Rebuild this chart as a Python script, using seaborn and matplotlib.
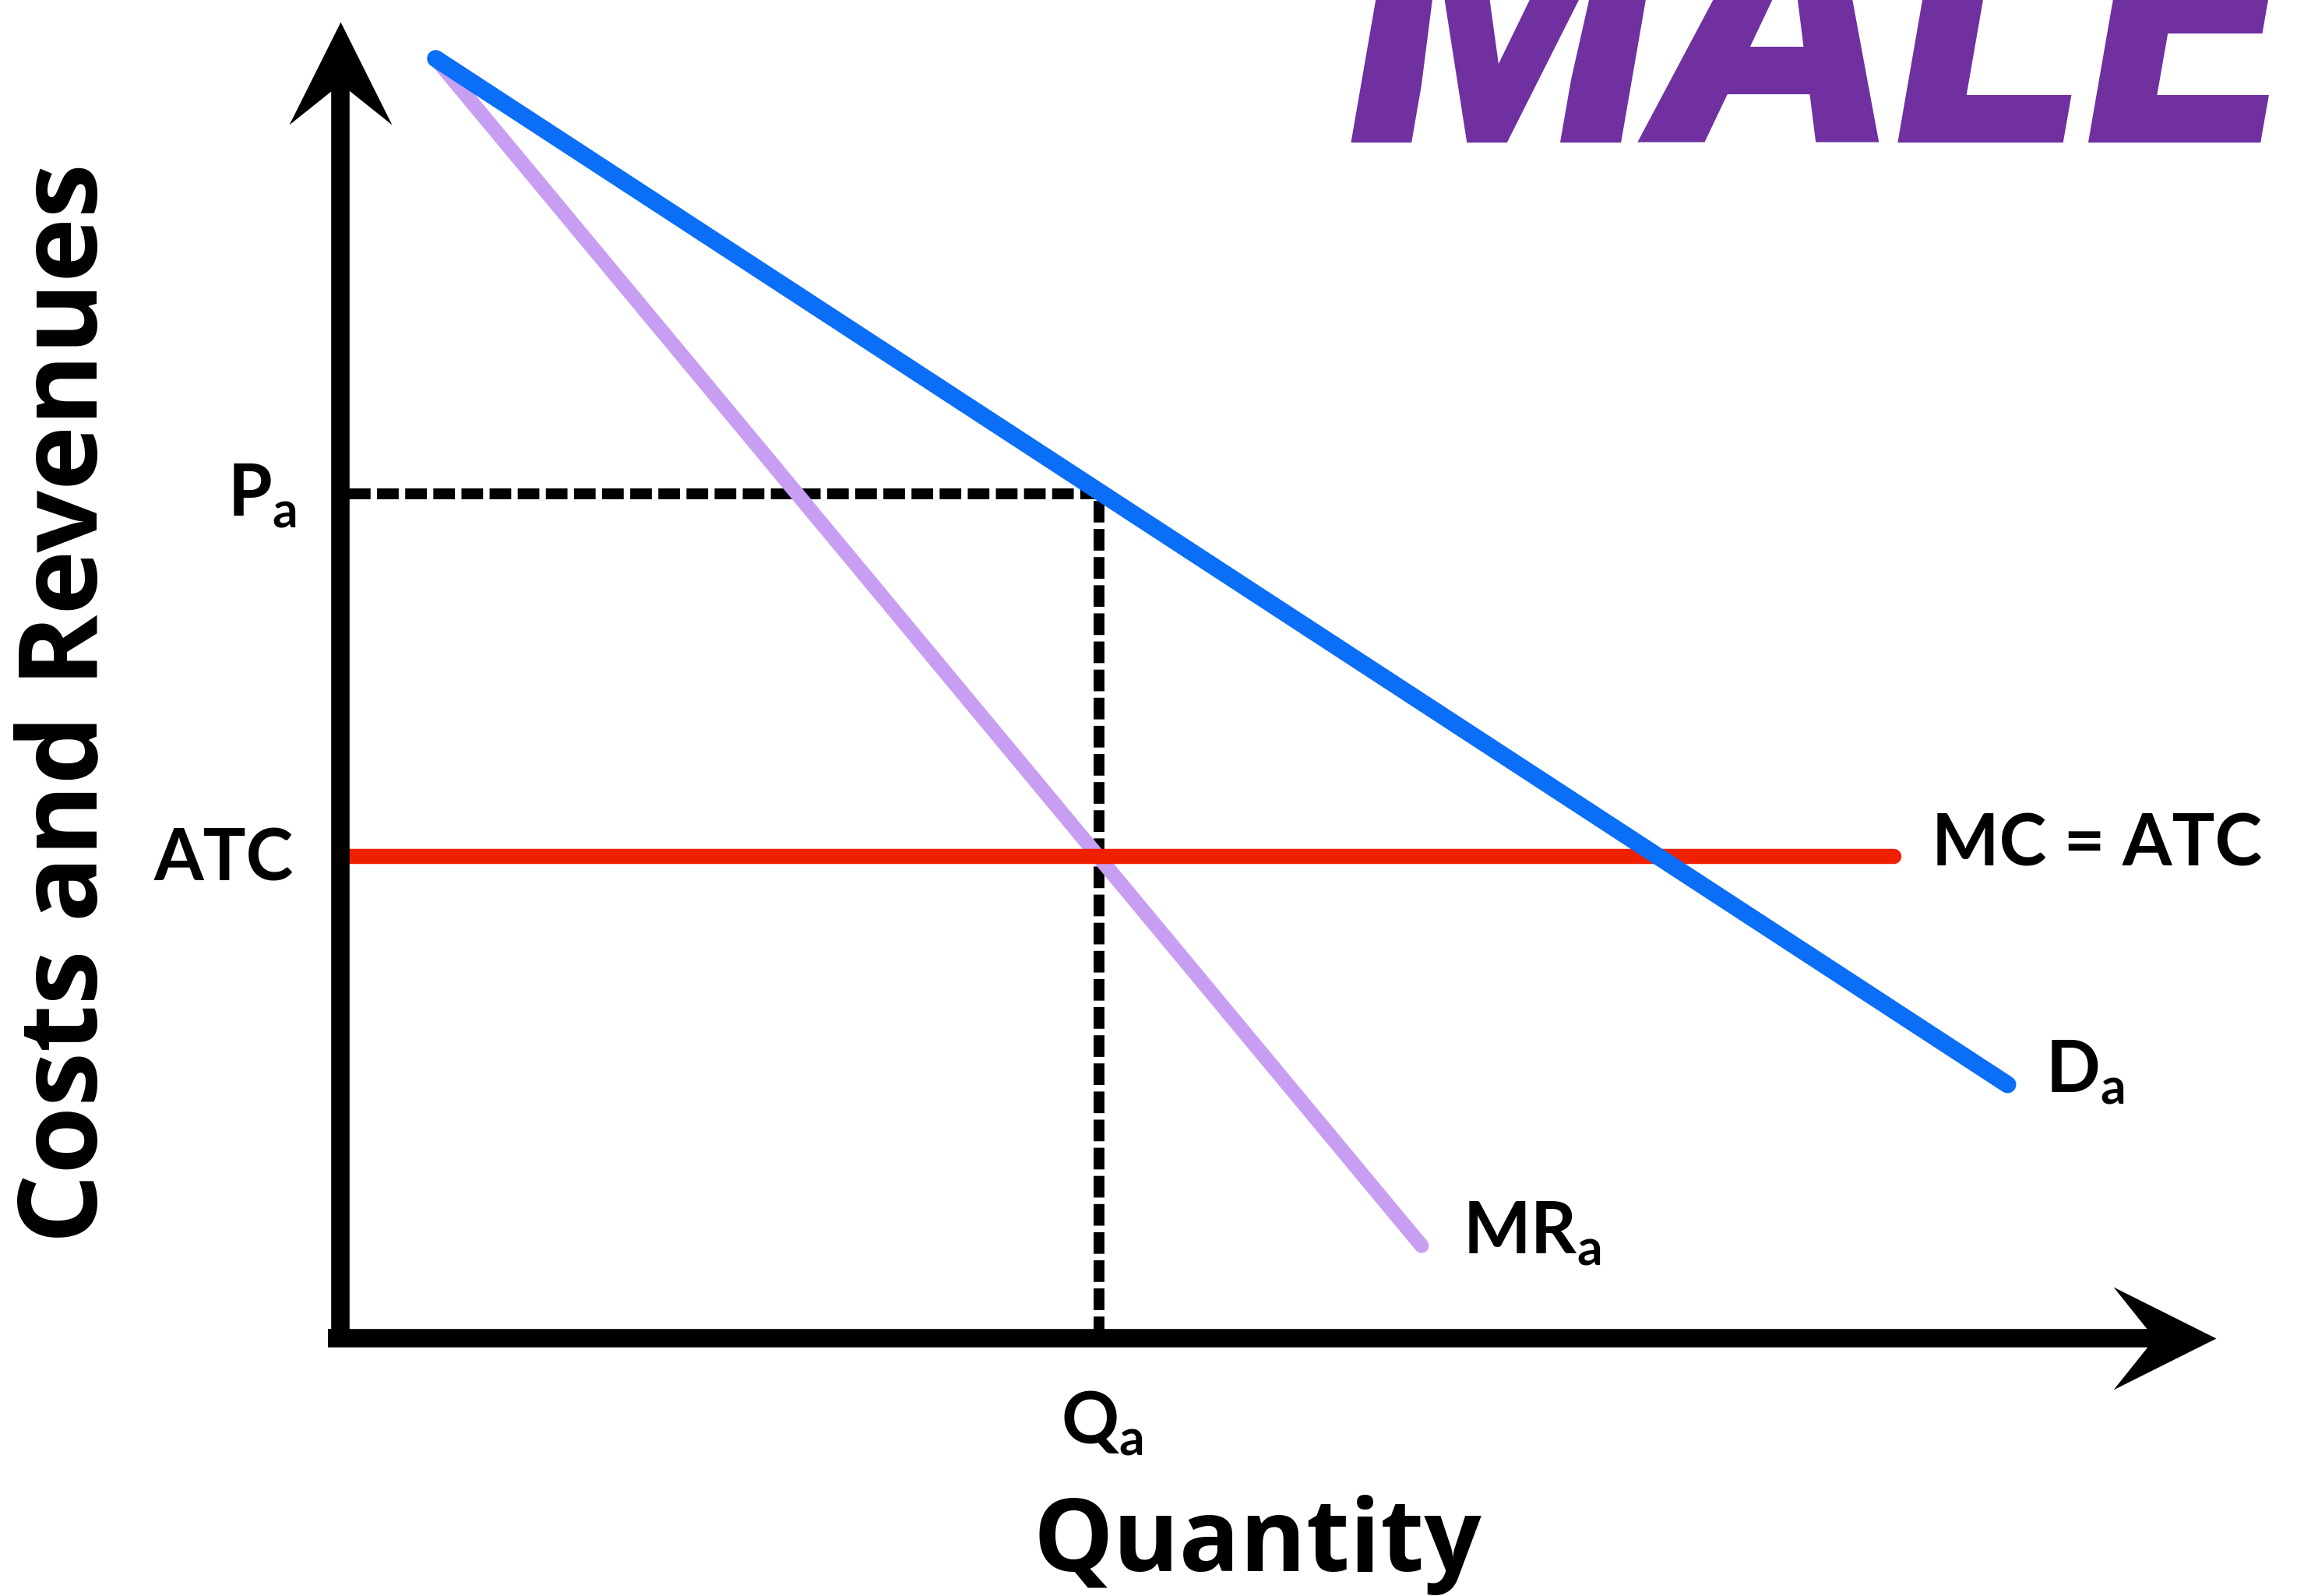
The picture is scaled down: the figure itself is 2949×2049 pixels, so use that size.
import numpy as np
import pandas as pd
import matplotlib
matplotlib.use("Agg")
import matplotlib.pyplot as plt
import seaborn as sns

# ---------------- data (economic units) ----------------
demand_q = [0.65, 11.38]
demand_p = [8.73, 1.73]
mr_q = [0.65, 7.38]
mr_p = [8.73, 0.63]
mc_q = [0.05, 10.60]
atc_level = 3.29
price_a = 5.76
quantity_a = 5.18

label_price = "P"
label_atc = "ATC"
label_qty = "Q"
label_mc = "MC = ATC"
label_demand = "D"
label_mr = "MR"
x_title = "Quantity"
y_title = "Costs and Revenues"
big_title = "MALE"

# ---------------- style ----------------
sns.set_theme(style="white")
plt.rcParams["font.family"] = ["Lato", "DejaVu Sans"]
plt.rcParams["mathtext.fontset"] = "custom"

W, H = 2949, 2049
fig = plt.figure(figsize=(W / 100, H / 100), dpi=100)
ax = fig.add_axes([0, 0, 1, 1])
# 1 unit = 100 px of the 1568-wide view; origin at (232.4, 913) there
sx = 1568 / 100.0
ax.set_xlim(-2.324, -2.324 + sx)
ax.set_ylim(-(1089 - 913) / 100.0, 913 / 100.0)
ax.set_axis_off()

BLUE = "#0A6EF7"
PURPLE = "#C89EF3"
RED = "#EE2000"
BLACK = "#000000"

# dashed guide lines
ax.plot([0.06, quantity_a], [price_a, price_a], color=BLACK, lw=10,
        dashes=(2.0, 0.6), dash_capstyle="butt", zorder=2)
ax.plot([quantity_a, quantity_a], [0, price_a], color=BLACK, lw=10,
        dashes=(2.0, 0.6), dash_capstyle="butt", zorder=2)

# curves
sns.lineplot(x=mr_q, y=mr_p, ax=ax, color=PURPLE, lw=13.5,
             solid_capstyle="round", zorder=3, sort=False)
sns.lineplot(x=mc_q, y=[atc_level, atc_level], ax=ax, color=RED, lw=14,
             solid_capstyle="round", zorder=4, sort=False)
sns.lineplot(x=demand_q, y=demand_p, ax=ax, color=BLUE, lw=16,
             solid_capstyle="round", zorder=5, sort=False)

# axes with notched arrow heads
head_up = [(0, 0.5), (0.5, -0.5), (0, -0.1), (-0.5, -0.5), (0, 0.5)]
head_right = [(y, -x) for x, y in head_up]
ax.plot([0, 0], [-0.05, 8.63], color=BLACK, lw=17, solid_capstyle="butt", zorder=6)
ax.plot([-0.085, 12.45], [0, 0], color=BLACK, lw=17, solid_capstyle="butt", zorder=6)
ax.plot([0], [8.63], marker=head_up, markersize=95, color=BLACK, mew=0, zorder=7)
ax.plot([12.45], [0], marker=head_right, markersize=95, color=BLACK, mew=0, zorder=7)

# labels
lab_kw = dict(fontsize=66, fontweight="bold", color=BLACK, family=["Lato", "DejaVu Sans"])
ax.text(-0.30, 5.61, label_price + r"$_\mathregular{a}$", ha="right", va="baseline", **lab_kw)
ax.text(-0.32, 3.12, label_atc, ha="right", va="baseline", **lab_kw)
ax.text(5.20, -0.72, label_qty + r"$_\mathregular{a}$", ha="center", va="baseline", **lab_kw)
ax.text(10.86, 3.22, label_mc, ha="left", va="baseline", **lab_kw)
ax.text(11.64, 1.68, label_demand + r"$_\mathregular{a}$", ha="left", va="baseline", **lab_kw)
ax.text(7.66, 0.58, label_mr + r"$_\mathregular{a}$", ha="left", va="baseline", **lab_kw)

title_kw = dict(fontweight="bold", color=BLACK, family=["Open Sans", "DejaVu Sans"])
ax.text(6.26, -1.59, x_title, ha="center", va="baseline", fontsize=93, **title_kw)
ax.text(-1.86, 4.33, y_title, ha="center", va="center", rotation=90, fontsize=101, **title_kw)

fig.text(922 / 1568, 1 - 97 / 1089, big_title, ha="left", va="baseline",
         fontsize=335, fontweight="black", fontstyle="italic", color="#7030A0",
         family=["Roboto", "Lato", "DejaVu Sans"])

fig.savefig("out.png", dpi=100, facecolor="white")
